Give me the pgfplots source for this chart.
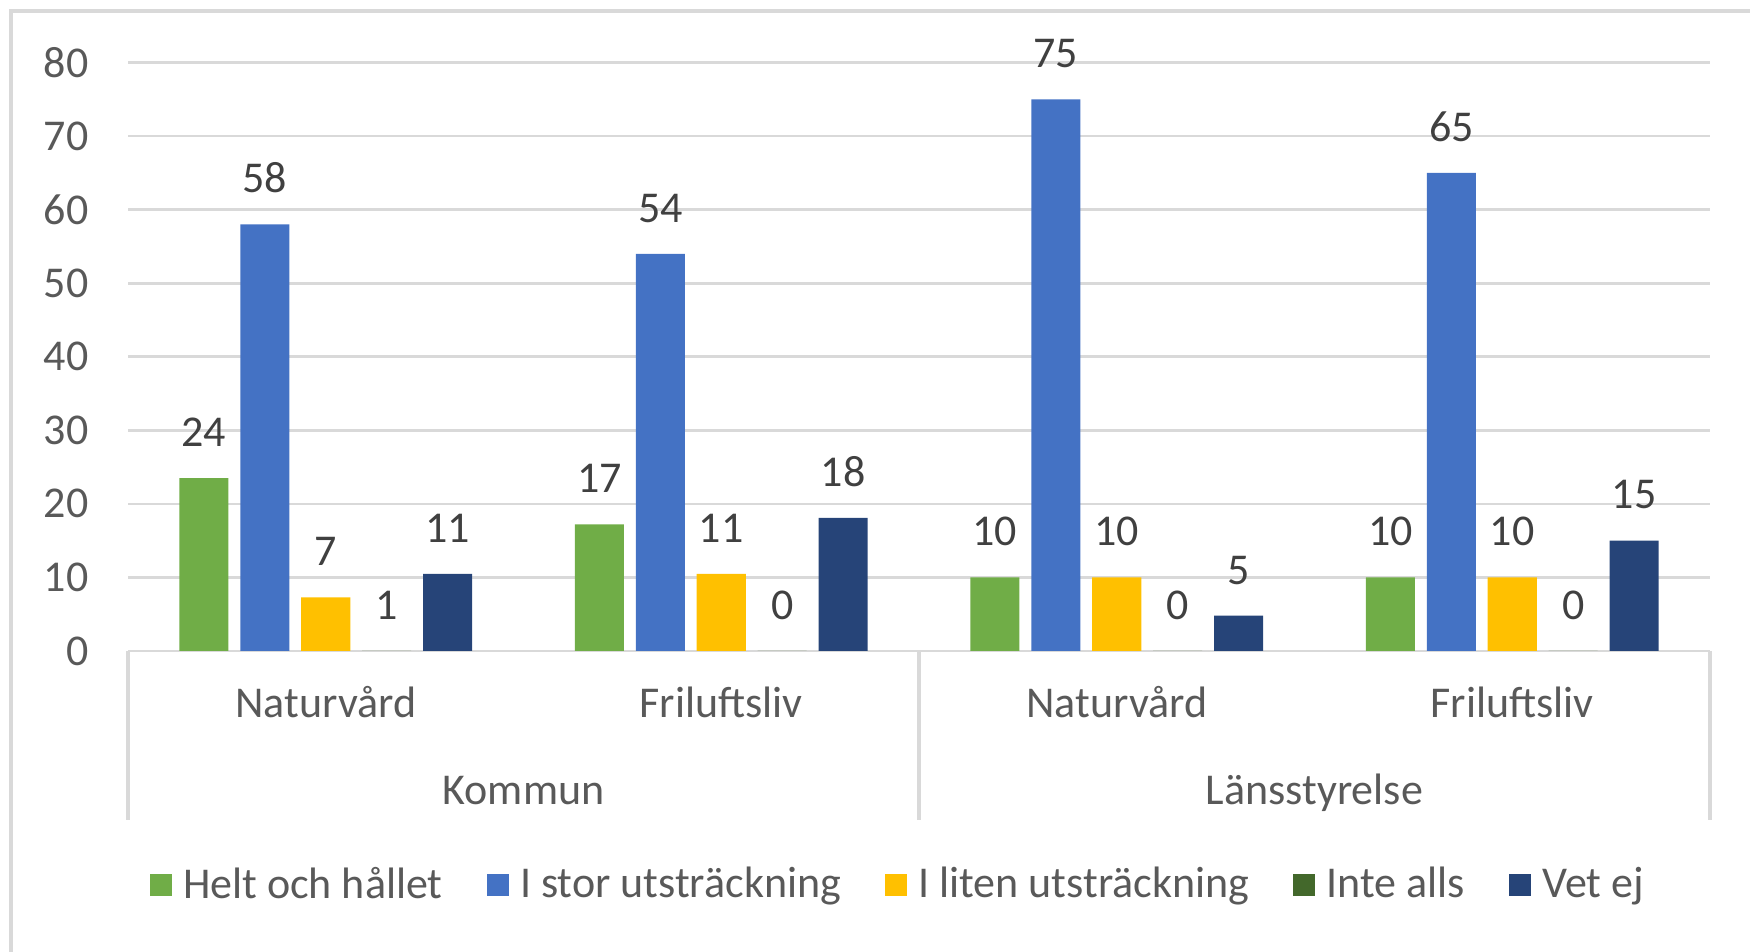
\documentclass[border=0pt]{standalone}
\usepackage{pgfplots}
\pgfplotsset{compat=1.18}
\usepackage{fontspec}
\setmainfont{Carlito}
\definecolor{cgreen}{HTML}{70AD47}
\definecolor{cblue}{HTML}{4472C4}
\definecolor{cyellow}{HTML}{FFC000}
\definecolor{cdgreen}{HTML}{43682B}
\definecolor{cdblue}{HTML}{264478}
\definecolor{txt}{HTML}{595959}
\definecolor{lbl}{HTML}{404040}
\definecolor{gridc}{HTML}{D9D9D9}

\begin{document}
\begin{tikzpicture}[font=\fontsize{13.2}{15}\selectfont]
\useasboundingbox (0,0) rectangle (525pt,285.6pt);
\draw[gridc, line width=1.2pt] (3.3pt,0) -- (3.3pt,282.3pt) -- (525pt,282.3pt);
\begin{axis}[
  at={(38.4pt,90.3pt)}, anchor=south west,
  scale only axis, width=474.6pt, height=176.55pt,
  xmin=-0.5, xmax=3.5, ymin=0, ymax=80,
  ytick={0,10,...,80},
  xtick={0,1,2,3},
  xticklabels={Naturvård,Friluftsliv,Naturvård,Friluftsliv},
  major tick length=0pt,
  axis line style={draw=none},
  ymajorgrids, grid style={gridc, line width=0.8pt},
  tick label style={font=\fontsize{13.2}{15}\selectfont, text=txt, inner sep=0pt},
  yticklabel style={anchor=east, xshift=-11.7pt},
  xticklabel style={anchor=base, yshift=-20.1pt},
  /pgf/number format/assume math mode=true,
  bar width=0.124,
  clip=false,
  point meta=explicit symbolic,
  nodes near coords,
  nodes near coords style={font=\fontsize{13.2}{15}\selectfont, text=lbl, anchor=base, yshift=9.5pt, inner sep=0pt},
  legend columns=5,
  legend style={at={(0.486,-0.3976)}, anchor=center, draw=none, fill=none,
    font=\fontsize{13.2}{15}\selectfont,
    nodes={text=txt, inner sep=0pt},
    /tikz/every odd column/.append style={column sep=3.4pt},
    /tikz/every even column/.append style={column sep=13.2pt}},
  every axis plot/.append style={draw=none,
    legend image code/.code={\fill[##1,draw=none] (0pt,-3.3pt) rectangle (6.6pt,3.3pt);}},
]
\addplot[ybar, bar shift=0pt, fill=cgreen] table[x=x, y=y, meta=lab] {
x y lab
-0.308 23.5 24
0.692 17.2 17
1.692 10 10
2.692 10 10
};
\addlegendentry{Helt och hållet}
\addplot[ybar, bar shift=0pt, fill=cblue] table[x=x, y=y, meta=lab] {
x y lab
-0.154 58 58
0.846 54 54
1.846 75 75
2.846 65 65
};
\addlegendentry{I stor utsträckning}
\addplot[ybar, bar shift=0pt, fill=cyellow] table[x=x, y=y, meta=lab] {
x y lab
0 7.3 7
1 10.5 11
2 10 10
3 10 10
};
\addlegendentry{I liten utsträckning}
\addplot[ybar, bar shift=0pt, fill=cdgreen] table[x=x, y=y, meta=lab] {
x y lab
0.154 0 1
1.154 0 0
2.154 0 0
3.154 0 0
};
\addlegendentry{Inte alls}
\addplot[ybar, bar shift=0pt, fill=cdblue] table[x=x, y=y, meta=lab] {
x y lab
0.308 10.5 11
1.308 18.1 18
2.308 4.8 5
3.308 15 15
};
\addlegendentry{Vet ej}
\draw[gridc, line width=1pt] (axis cs:-0.5,0) -- ([yshift=-50.7pt]axis cs:-0.5,0);
\draw[gridc, line width=1pt] (axis cs:1.5,0) -- ([yshift=-50.7pt]axis cs:1.5,0);
\draw[gridc, line width=1pt] (axis cs:3.5,0) -- ([yshift=-50.7pt]axis cs:3.5,0);
\node[anchor=base, text=txt, inner sep=0pt] at ([yshift=-46.2pt]axis cs:0.5,0) {Kommun};
\node[anchor=base, text=txt, inner sep=0pt] at ([yshift=-46.2pt]axis cs:2.5,0) {Länsstyrelse};
\end{axis}
\end{tikzpicture}
\end{document}
